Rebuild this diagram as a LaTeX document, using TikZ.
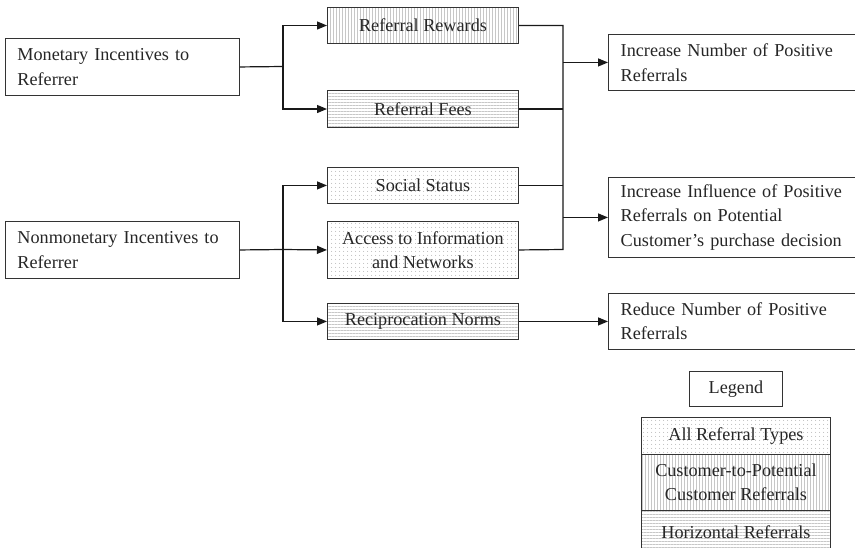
\documentclass[tikz,border=0pt]{standalone}
\usepackage{fontspec}
\setmainfont{Liberation Serif}
\usetikzlibrary{arrows.meta,patterns.meta}
\begin{document}
\begin{tikzpicture}[x=1pt,y=-1pt,
  box/.style={draw=black!80, line width=0.9pt, inner sep=0pt, anchor=north west,
    font=\fontsize{18.2}{24.5}\selectfont, text=black!85},
  vstripe/.style={pattern={Lines[angle=90,distance=3pt,line width=1pt]}, pattern color=black!22},
  hstripe/.style={pattern={Lines[angle=0,distance=3pt,line width=1pt]}, pattern color=black!22},
  dotted fill/.style={pattern={Dots[distance=4pt,radius=0.55pt]}, pattern color=black!40},
  conn/.style={draw=black!90, line width=1.2pt},
  arr/.style={conn, -{Triangle[length=10pt,width=8pt]}},
]
\useasboundingbox (0,0) rectangle (855,547);

% left boxes
\node[box, minimum width=234pt, minimum height=57pt, text width=210pt, align=left] (mon) at (5,38) {Monetary Incentives to\\Referrer};
\node[box, minimum width=234pt, minimum height=57pt, text width=210pt, align=left] (non) at (5,221) {Nonmonetary Incentives to\\Referrer};

% middle boxes
\node[box, vstripe, minimum width=191pt, minimum height=36pt, align=center] (rr) at (327,7) {Referral Rewards};
\node[box, hstripe, minimum width=191pt, minimum height=37pt, align=center] (rf) at (327,90) {Referral Fees};
\node[box, dotted fill, minimum width=191pt, minimum height=36pt, align=center] (ss) at (327,167) {Social Status};
\node[box, dotted fill, minimum width=191pt, minimum height=57pt, align=center] (ai) at (327,221) {Access to Information\\and Networks};
\node[box, hstripe, minimum width=191pt, minimum height=36pt, align=center] (rn) at (327,303) {Reciprocation Norms};

% right boxes
\node[box, minimum width=246.5pt, minimum height=56pt, text width=222pt, align=left] (inp) at (608,34) {Increase Number of Positive\\Referrals};
\node[box, minimum width=246.5pt, minimum height=80pt, text width=222pt, align=left] (inf) at (608,177) {Increase Influence of Positive\\Referrals on Potential\\Customer's purchase decision};
\node[box, minimum width=246.5pt, minimum height=56pt, text width=222pt, align=left] (red) at (608,292.5) {Reduce Number of Positive\\Referrals};

% legend
\node[box, minimum width=93pt, minimum height=35pt, align=center] (leg) at (689,371) {Legend};
\node[box, dotted fill, minimum width=189pt, minimum height=37pt, align=center] (l1) at (641,417) {All Referral Types};
\node[box, vstripe, minimum width=189pt, minimum height=56pt, align=center] (l2) at (641,454) {Customer-to-Potential\\Customer Referrals};
\node[box, hstripe, minimum width=189pt, minimum height=44pt, align=center] (l3) at (641,510) {Horizontal Referrals};

% junctions
\coordinate (jm) at (283,66.5);
\coordinate (jn) at (283,249.5);
\coordinate (bus) at (563,249.5);

% monetary fan-out
\draw[conn] (mon.east) -- (jm);
\draw[arr] (jm) |- (rr.west);
\draw[arr] (jm) |- (rf.west);

% nonmonetary fan-out
\draw[conn] (non.east) -- (jn);
\draw[arr] (jn) |- (ss.west);
\draw[arr] (jn) -- (ai.west);
\draw[arr] (jn) |- (rn.west);

% bus on the right
\draw[conn] (rr.east) -| (bus) -- (ai.east);
\draw[conn] (rf.east) -- (rf.east -| bus);
\draw[conn] (ss.east) -- (ss.east -| bus);
\draw[arr] (inp.west -| bus) -- (inp.west);
\draw[arr] (inf.west -| bus) -- (inf.west);
\draw[arr] (rn.east) -- (red.west |- rn.east);
\end{tikzpicture}
\end{document}
